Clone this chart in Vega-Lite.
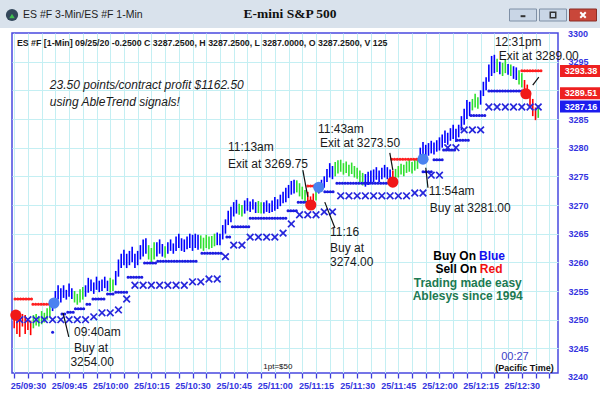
{
  "$schema": "https://vega.github.io/schema/vega-lite/v6.json",
  "padding": 0,
  "spacing": 5,
  "bounds": "flush",
  "background": "#ffffff",
  "config": {"view": {"stroke": null}, "font": "Liberation Sans"},
  "datasets": {
    "bars": [
      {"m":-5,"l":3248.5,"h":3251.5,"c":"r"},{"m":-4,"l":3247.5,"h":3250.5,"c":"r"},{"m":-3,"l":3247.0,"h":3249.8,"c":"r"},{"m":-2,"l":3248.8,"h":3251.0,"c":"r"},{"m":-1,"l":3247.5,"h":3250.8,"c":"r"},{"m":0,"l":3248.2,"h":3250.2,"c":"r"},{"m":1,"l":3247.3,"h":3249.8,"c":"r"},
      {"m":2,"l":3248.5,"h":3250.8,"c":"g"},{"m":3,"l":3249.0,"h":3251.0,"c":"g"},{"m":4,"l":3248.8,"h":3250.5,"c":"g"},{"m":5,"l":3249.2,"h":3251.5,"c":"g"},{"m":6,"l":3249.5,"h":3251.2,"c":"g"},{"m":7,"l":3250.0,"h":3252.0,"c":"g"},{"m":8,"l":3250.5,"h":3252.5,"c":"g"},
      {"m":9,"l":3251.5,"h":3253.5,"c":"b"},{"m":10,"l":3252.5,"h":3255.0,"c":"b"},{"m":11,"l":3253.5,"h":3256.0,"c":"b"},{"m":12,"l":3253.0,"h":3255.5,"c":"b"},{"m":13,"l":3253.8,"h":3256.0,"c":"b"},{"m":14,"l":3253.5,"h":3255.2,"c":"b"},{"m":15,"l":3254.0,"h":3256.3,"c":"b"},{"m":16,"l":3253.6,"h":3255.5,"c":"b"},
      {"m":17,"l":3253.0,"h":3255.0,"c":"g"},{"m":18,"l":3252.6,"h":3254.5,"c":"g"},{"m":19,"l":3253.0,"h":3255.3,"c":"g"},{"m":20,"l":3253.5,"h":3255.7,"c":"g"},
      {"m":21,"l":3254.0,"h":3256.0,"c":"b"},{"m":22,"l":3254.7,"h":3257.3,"c":"b"},{"m":23,"l":3255.0,"h":3257.0,"c":"b"},{"m":24,"l":3254.5,"h":3256.5,"c":"b"},{"m":25,"l":3255.2,"h":3257.5,"c":"b"},{"m":26,"l":3254.8,"h":3256.8,"c":"b"},{"m":27,"l":3255.0,"h":3257.0,"c":"b"},{"m":28,"l":3255.5,"h":3257.5,"c":"b"},{"m":29,"l":3255.0,"h":3256.8,"c":"b"},
      {"m":30,"l":3254.8,"h":3257.3,"c":"g"},{"m":31,"l":3255.0,"h":3257.0,"c":"g"},
      {"m":32,"l":3256.0,"h":3258.5,"c":"b"},{"m":33,"l":3257.5,"h":3260.5,"c":"b"},{"m":34,"l":3259.0,"h":3261.5,"c":"b"},{"m":35,"l":3259.5,"h":3262.2,"c":"b"},{"m":36,"l":3259.0,"h":3261.5,"c":"b"},{"m":37,"l":3259.5,"h":3262.0,"c":"b"},{"m":38,"l":3260.0,"h":3262.7,"c":"b"},{"m":39,"l":3259.0,"h":3261.5,"c":"b"},{"m":40,"l":3259.5,"h":3262.0,"c":"b"},{"m":41,"l":3260.5,"h":3263.0,"c":"b"},{"m":42,"l":3261.0,"h":3264.0,"c":"b"},{"m":43,"l":3261.5,"h":3264.2,"c":"b"},
      {"m":44,"l":3260.5,"h":3263.0,"c":"g"},{"m":45,"l":3260.0,"h":3262.5,"c":"g"},{"m":46,"l":3260.5,"h":3263.5,"c":"g"},
      {"m":47,"l":3261.0,"h":3263.5,"c":"b"},{"m":48,"l":3261.5,"h":3264.0,"c":"b"},{"m":49,"l":3261.0,"h":3263.2,"c":"b"},{"m":50,"l":3260.8,"h":3262.8,"c":"g"},{"m":51,"l":3261.5,"h":3263.5,"c":"b"},{"m":52,"l":3262.0,"h":3264.0,"c":"b"},{"m":53,"l":3261.5,"h":3263.3,"c":"b"},{"m":54,"l":3262.0,"h":3264.5,"c":"b"},{"m":55,"l":3262.5,"h":3265.0,"c":"b"},{"m":56,"l":3262.0,"h":3264.2,"c":"b"},{"m":57,"l":3261.8,"h":3264.0,"c":"b"},{"m":58,"l":3262.3,"h":3264.5,"c":"b"},{"m":59,"l":3262.5,"h":3265.0,"c":"b"},{"m":60,"l":3262.0,"h":3264.8,"c":"b"},{"m":61,"l":3262.5,"h":3265.0,"c":"b"},{"m":62,"l":3262.2,"h":3264.8,"c":"b"},
      {"m":63,"l":3262.4,"h":3264.7,"c":"g"},{"m":64,"l":3262.0,"h":3264.3,"c":"g"},{"m":65,"l":3262.5,"h":3264.8,"c":"g"},{"m":66,"l":3262.3,"h":3264.5,"c":"g"},{"m":67,"l":3262.5,"h":3264.6,"c":"g"},{"m":68,"l":3262.8,"h":3265.0,"c":"g"},
      {"m":69,"l":3263.0,"h":3265.2,"c":"b"},{"m":70,"l":3263.0,"h":3265.0,"c":"b"},{"m":71,"l":3264.0,"h":3266.5,"c":"b"},{"m":72,"l":3265.0,"h":3267.5,"c":"b"},{"m":73,"l":3266.5,"h":3269.0,"c":"b"},{"m":74,"l":3267.0,"h":3269.7,"c":"b"},{"m":75,"l":3268.0,"h":3270.5,"c":"b"},{"m":76,"l":3268.5,"h":3270.9,"c":"b"},
      {"m":77,"l":3268.3,"h":3270.2,"c":"g"},{"m":78,"l":3268.0,"h":3270.0,"c":"g"},
      {"m":79,"l":3268.5,"h":3270.8,"c":"b"},{"m":80,"l":3269.0,"h":3271.2,"c":"b"},{"m":81,"l":3268.8,"h":3270.6,"c":"b"},{"m":82,"l":3269.2,"h":3271.0,"c":"b"},{"m":83,"l":3268.6,"h":3270.5,"c":"b"},
      {"m":84,"l":3268.6,"h":3270.7,"c":"g"},{"m":85,"l":3268.5,"h":3270.5,"c":"g"},
      {"m":86,"l":3268.5,"h":3270.5,"c":"b"},{"m":87,"l":3268.8,"h":3270.8,"c":"b"},{"m":88,"l":3268.6,"h":3270.3,"c":"b"},{"m":89,"l":3268.8,"h":3270.8,"c":"b"},{"m":90,"l":3269.0,"h":3271.4,"c":"b"},{"m":91,"l":3269.3,"h":3271.0,"c":"b"},{"m":92,"l":3269.8,"h":3271.8,"c":"b"},{"m":93,"l":3270.3,"h":3272.3,"c":"b"},{"m":94,"l":3270.5,"h":3273.0,"c":"b"},{"m":95,"l":3271.2,"h":3273.5,"c":"b"},{"m":96,"l":3271.8,"h":3274.2,"c":"b"},{"m":97,"l":3272.0,"h":3274.4,"c":"b"},
      {"m":98,"l":3272.2,"h":3274.3,"c":"g"},{"m":99,"l":3271.5,"h":3273.8,"c":"g"},{"m":100,"l":3271.0,"h":3273.2,"c":"g"},{"m":101,"l":3270.5,"h":3272.6,"c":"g"},
      {"m":102,"l":3270.0,"h":3272.3,"c":"r"},{"m":103,"l":3269.5,"h":3271.5,"c":"r"},{"m":104,"l":3270.0,"h":3272.0,"c":"r"},{"m":105,"l":3270.8,"h":3273.0,"c":"g"},
      {"m":106,"l":3272.0,"h":3274.0,"c":"b"},{"m":107,"l":3272.5,"h":3274.4,"c":"b"},{"m":108,"l":3273.0,"h":3275.0,"c":"b"},{"m":109,"l":3274.0,"h":3276.3,"c":"b"},{"m":110,"l":3274.8,"h":3277.3,"c":"b"},{"m":111,"l":3274.5,"h":3276.8,"c":"b"},
      {"m":112,"l":3275.0,"h":3277.5,"c":"g"},{"m":113,"l":3275.5,"h":3277.8,"c":"g"},{"m":114,"l":3275.8,"h":3277.9,"c":"g"},{"m":115,"l":3275.3,"h":3277.3,"c":"g"},{"m":116,"l":3275.6,"h":3277.6,"c":"g"},{"m":117,"l":3275.0,"h":3277.0,"c":"g"},{"m":118,"l":3275.4,"h":3277.4,"c":"g"},{"m":119,"l":3274.8,"h":3276.8,"c":"g"},{"m":120,"l":3274.6,"h":3276.5,"c":"g"},{"m":121,"l":3274.0,"h":3276.0,"c":"g"},{"m":122,"l":3273.4,"h":3275.6,"c":"g"},
      {"m":123,"l":3273.2,"h":3275.4,"c":"b"},{"m":124,"l":3273.5,"h":3275.8,"c":"b"},{"m":125,"l":3273.8,"h":3276.0,"c":"b"},{"m":126,"l":3274.0,"h":3276.2,"c":"b"},{"m":127,"l":3274.4,"h":3276.6,"c":"b"},{"m":128,"l":3274.0,"h":3276.0,"c":"b"},{"m":129,"l":3274.5,"h":3276.5,"c":"b"},{"m":130,"l":3274.8,"h":3277.0,"c":"b"},{"m":131,"l":3274.5,"h":3276.6,"c":"b"},{"m":132,"l":3274.5,"h":3276.2,"c":"b"},
      {"m":133,"l":3274.0,"h":3276.0,"c":"r"},
      {"m":134,"l":3274.2,"h":3276.3,"c":"g"},{"m":135,"l":3274.8,"h":3276.8,"c":"g"},{"m":136,"l":3275.3,"h":3277.2,"c":"g"},{"m":137,"l":3275.0,"h":3277.0,"c":"g"},{"m":138,"l":3275.6,"h":3277.6,"c":"g"},{"m":139,"l":3275.8,"h":3277.9,"c":"g"},{"m":140,"l":3275.5,"h":3277.5,"c":"g"},{"m":141,"l":3276.0,"h":3277.9,"c":"g"},{"m":142,"l":3276.3,"h":3278.2,"c":"g"},
      {"m":143,"l":3277.5,"h":3280.0,"c":"b"},{"m":144,"l":3278.5,"h":3281.0,"c":"b"},{"m":145,"l":3278.2,"h":3280.5,"c":"b"},{"m":146,"l":3278.6,"h":3280.8,"c":"b"},{"m":147,"l":3279.0,"h":3281.2,"c":"b"},{"m":148,"l":3278.8,"h":3280.9,"c":"b"},{"m":149,"l":3279.3,"h":3281.3,"c":"b"},{"m":150,"l":3279.5,"h":3281.8,"c":"b"},{"m":151,"l":3280.0,"h":3282.3,"c":"b"},{"m":152,"l":3280.8,"h":3283.0,"c":"b"},{"m":153,"l":3280.5,"h":3282.6,"c":"b"},{"m":154,"l":3281.2,"h":3283.4,"c":"b"},{"m":155,"l":3281.5,"h":3284.0,"c":"b"},{"m":156,"l":3281.0,"h":3283.3,"c":"b"},{"m":157,"l":3281.8,"h":3284.0,"c":"b"},{"m":158,"l":3283.0,"h":3285.5,"c":"b"},{"m":159,"l":3284.0,"h":3286.8,"c":"b"},{"m":160,"l":3285.0,"h":3288.3,"c":"b"},{"m":161,"l":3285.5,"h":3288.0,"c":"b"},
      {"m":162,"l":3286.5,"h":3288.5,"c":"g"},{"m":163,"l":3287.0,"h":3289.4,"c":"g"},{"m":164,"l":3286.8,"h":3288.8,"c":"g"},
      {"m":165,"l":3287.5,"h":3290.0,"c":"b"},{"m":166,"l":3289.0,"h":3291.5,"c":"b"},{"m":167,"l":3290.0,"h":3292.3,"c":"b"},{"m":168,"l":3291.5,"h":3294.5,"c":"b"},{"m":169,"l":3292.5,"h":3296.0,"c":"b"},{"m":170,"l":3293.0,"h":3296.2,"c":"b"},
      {"m":171,"l":3293.2,"h":3295.5,"c":"g"},{"m":172,"l":3292.8,"h":3295.0,"c":"b"},{"m":173,"l":3292.5,"h":3294.8,"c":"g"},{"m":174,"l":3293.0,"h":3295.3,"c":"g"},{"m":175,"l":3292.7,"h":3294.6,"c":"b"},{"m":176,"l":3292.5,"h":3294.5,"c":"g"},{"m":177,"l":3292.0,"h":3294.2,"c":"b"},{"m":178,"l":3291.8,"h":3294.0,"c":"b"},{"m":179,"l":3291.0,"h":3293.5,"c":"g"},{"m":180,"l":3290.5,"h":3293.0,"c":"g"},
      {"m":181,"l":3289.5,"h":3291.8,"c":"r"},{"m":182,"l":3288.8,"h":3291.0,"c":"r"},{"m":183,"l":3287.0,"h":3289.8,"c":"r"},{"m":184,"l":3285.5,"h":3288.5,"c":"r"},{"m":185,"l":3284.8,"h":3287.0,"c":"r"},{"m":186,"l":3285.2,"h":3287.4,"c":"g"}
    ],
    "dots": [
      {"a":9,"b":9,"p":3247.8},{"a":12.4,"b":14.2,"p":3251.0},{"a":14.5,"b":17,"p":3251.3},{"a":17.3,"b":20.8,"p":3251.9},{"a":21.5,"b":23.3,"p":3252.7},{"a":23.7,"b":28.5,"p":3253.6},{"a":29,"b":31.5,"p":3254.5},{"a":32,"b":36,"p":3254.8},{"a":36.5,"b":42,"p":3257.4},{"a":42.5,"b":47,"p":3259.9},{"a":47.3,"b":61.6,"p":3260.2},{"a":63.4,"b":71,"p":3261.6},{"a":72.5,"b":74,"p":3264.4},{"a":74.5,"b":80.5,"p":3266.2},{"a":81,"b":94.4,"p":3267.7},{"a":94.8,"b":98,"p":3269.0},{"a":98.5,"b":102,"p":3270.5},{"a":108.2,"b":111.9,"p":3272.3},{"a":112.6,"b":133,"p":3273.8},{"a":144,"b":147.5,"p":3275.8},{"a":148,"b":151,"p":3277.9},{"a":151.5,"b":156,"p":3279.6},{"a":156.5,"b":161,"p":3281.3},{"a":161.5,"b":167,"p":3285.6},{"a":168,"b":180.4,"p":3289.9}
    ],
    "reds": [
      {"a":-4.7,"b":1.5,"p":3253.6},{"a":1.8,"b":8.7,"p":3252.7},{"a":102,"b":105,"p":3273.3},{"a":132.6,"b":143,"p":3278.0},{"a":180,"b":187,"p":3293.4}
    ],
    "xs": [
      {"m":-3,"p":3250.0},{"m":0,"p":3250.0},{"m":3,"p":3250.0},{"m":6,"p":3250.0},{"m":9,"p":3250.0},{"m":12,"p":3250.0},{"m":15,"p":3250.0},{"m":18,"p":3250.0},{"m":21,"p":3250.0},
      {"m":24,"p":3250.5},{"m":27,"p":3251.2},{"m":30,"p":3251.2},{"m":33,"p":3251.7},{"m":36,"p":3253.6},
      {"m":39,"p":3256.0},{"m":42,"p":3256.0},{"m":45,"p":3256.0},{"m":48,"p":3256.0},{"m":51,"p":3256.0},{"m":54,"p":3256.0},{"m":57,"p":3256.0},
      {"m":60,"p":3256.6},{"m":63,"p":3256.6},{"m":66,"p":3257.1},{"m":69,"p":3257.1},{"m":72,"p":3261.0},{"m":75,"p":3263.0},{"m":78,"p":3263.0},
      {"m":81,"p":3264.4},{"m":84,"p":3264.4},{"m":87,"p":3264.4},{"m":90,"p":3264.4},{"m":93,"p":3265.1},{"m":96,"p":3266.7},
      {"m":99,"p":3268.3},{"m":102,"p":3268.3},{"m":105,"p":3268.3},{"m":108,"p":3268.8},{"m":111,"p":3268.8},
      {"m":114,"p":3271.6},{"m":117,"p":3271.6},{"m":120,"p":3271.6},{"m":123,"p":3271.6},{"m":126,"p":3271.6},{"m":129,"p":3271.6},{"m":132,"p":3271.6},{"m":135,"p":3271.6},{"m":138,"p":3271.6},
      {"m":141,"p":3272.1},{"m":144,"p":3272.1},{"m":147,"p":3275.2},{"m":150,"p":3275.2},{"m":153,"p":3280.0},{"m":156,"p":3280.0},
      {"m":159,"p":3283.1},{"m":162,"p":3283.1},{"m":165,"p":3283.1},
      {"m":168,"p":3287.1},{"m":171,"p":3287.1},{"m":174,"p":3287.1},{"m":177,"p":3287.1},{"m":180,"p":3287.1},{"m":183,"p":3287.1},{"m":186,"p":3287.1}
    ],
    "sig": [
      {"m":-4.4,"p":3250.8,"k":"sell"},{"m":9.5,"p":3252.9,"k":"buy"},{"m":103.1,"p":3270.0,"k":"sell"},{"m":106,"p":3273.1,"k":"buy"},{"m":133,"p":3274.0,"k":"sell"},{"m":144,"p":3278.0,"k":"buy"},{"m":181.5,"p":3289.4,"k":"sell"}
    ],
    "arrows": [
      {"m1":14.9,"p1":3247.0,"m2":12.8,"p2":3251.2},{"m1":100.2,"p1":3276.1,"m2":102.0,"p2":3271.4},{"m1":111.9,"p1":3266.0,"m2":108.2,"p2":3270.5},{"m1":131.9,"p1":3279.1,"m2":133.0,"p2":3276.1},{"m1":145.8,"p1":3273.0,"m2":145.0,"p2":3276.5},{"m1":186.2,"p1":3292.3,"m2":184.0,"p2":3290.9}
    ],
    "notes": [
      {"m":16.8,"p":3247.8,"t":"09:40am","g":"a"},{"m":16.8,"p":3245.1,"t":"Buy at","g":"a"},{"m":15.5,"p":3242.6,"t":"3254.00","g":"a"},
      {"m":72.9,"p":3280.1,"t":"11:13am","g":"a"},{"m":72.9,"p":3277.2,"t":"Exit at 3269.75","g":"a"},
      {"m":105.7,"p":3283.3,"t":"11:43am","g":"a"},{"m":106.5,"p":3280.8,"t":"Exit at 3273.50","g":"a"},
      {"m":110.1,"p":3265.3,"t":"11:16","g":"a"},{"m":110.1,"p":3262.5,"t":"Buy at","g":"a"},{"m":110.1,"p":3260.1,"t":"3274.00","g":"a"},
      {"m":146.1,"p":3272.4,"t":"11:54am","g":"a"},{"m":146.5,"p":3269.5,"t":"Buy at 3281.00","g":"a"},
      {"m":170.2,"p":3298.4,"t":"12:31pm","g":"a"},{"m":171.6,"p":3296.0,"t":"Exit at 3289.00","g":"a"},
      {"m":8.0,"p":3290.9,"t":"23.50 points/contract profit $1162.50","g":"i"},{"m":8.0,"p":3288.0,"t":"using AbleTrend signals!","g":"i"},
      {"m":163.3,"p":3261.1,"t":"Buy On","g":"k"},{"m":163.6,"p":3258.8,"t":"Sell On","g":"k"},
      {"m":164.4,"p":3261.1,"t":"Blue","g":"bl"},{"m":164.7,"p":3258.8,"t":"Red","g":"rd"},
      {"m":160.3,"p":3256.4,"t":"Trading made easy","g":"gr"},{"m":160.3,"p":3254.1,"t":"Ablesys since 1994","g":"gr"},
      {"m":91.1,"p":3241.7,"t":"1pt=$50","g":"s"},
      {"m":177.5,"p":3243.5,"t":"00:27","g":"clk"},
      {"m":181.0,"p":3241.6,"t":"(Pacific Time)","g":"pt"},
      {"m":-4.0,"p":3298.3,"t":"ES #F [1-Min] 09/25/20  -0.2500 C 3287.2500, H 3287.2500, L 3287.0000, O 3287.2500, V 125","g":"info"}
    ],
    "tags": [
      {"p":3293.38,"t":"3293.38","k":"r"},{"p":3289.51,"t":"3289.51","k":"r"},{"p":3287.16,"t":"3287.16","k":"b"}
    ],
    "edgelabels": [
      {"p":3240,"t":"3240"},{"p":3299.9,"t":"3300"}
    ]
  },
  "vconcat": [
    {
      "width": 600,
      "height": 28,
      "view": {"fill": "#d9e2ec", "stroke": null},
      "layer": [
        {"data": {"values": [{"s": "o"}]}, "mark": {"type": "point", "shape": "circle", "filled": true, "color": "#33475b", "size": 150, "opacity": 1}, "encoding": {"x": {"value": 12}, "y": {"value": 15}}},
        {"data": {"values": [{"s": "o"}]}, "mark": {"type": "point", "shape": "triangle-up", "filled": true, "color": "#3fbf4f", "size": 30, "opacity": 1}, "encoding": {"x": {"value": 12}, "y": {"value": 16}}},
        {"data": {"values": [{"s": "ES #F 3-Min/ES #F 1-Min"}]}, "mark": {"type": "text", "align": "left", "baseline": "middle", "font": "Liberation Sans", "fontSize": 10.5, "color": "#1e1e1e"}, "encoding": {"text": {"field": "s"}, "x": {"value": 23}, "y": {"value": 15}}},
        {"data": {"values": [{"s": "E-mini S&P 500"}]}, "mark": {"type": "text", "align": "center", "baseline": "middle", "font": "Liberation Serif", "fontWeight": "bold", "fontSize": 13.5, "color": "#111111"}, "encoding": {"text": {"field": "s"}, "x": {"value": 290}, "y": {"value": 14}}},
        {"data": {"values": [{"b": "min"}]}, "mark": {"type": "point", "shape": "M-2.25,-1H2.25V1H-2.25Z", "filled": true, "fill": "#c9d6e6", "stroke": "#7f90a6", "strokeWidth": 1, "size": 144, "opacity": 1}, "encoding": {"x": {"value": 523}, "y": {"value": 15}}},
        {"data": {"values": [{"b": "max"}]}, "mark": {"type": "point", "shape": "M-2.25,-1H2.25V1H-2.25Z", "filled": true, "fill": "#c9d6e6", "stroke": "#7f90a6", "strokeWidth": 1, "size": 144, "opacity": 1}, "encoding": {"x": {"value": 553}, "y": {"value": 15}}},
        {"data": {"values": [{"b": "min"}]}, "mark": {"type": "point", "shape": "M-0.8,0.4H0.8", "filled": false, "stroke": "#333333", "strokeWidth": 2, "size": 36, "opacity": 1}, "encoding": {"x": {"value": 523}, "y": {"value": 15}}},
        {"data": {"values": [{"b": "max"}]}, "mark": {"type": "point", "shape": "square", "filled": false, "stroke": "#333333", "strokeWidth": 1.5, "size": 30, "opacity": 1}, "encoding": {"x": {"value": 553}, "y": {"value": 15}}},
        {"data": {"values": [{"b": "close"}]}, "mark": {"type": "point", "shape": "M-2.25,-1H2.25V1H-2.25Z", "filled": true, "fill": "#c9473a", "stroke": "#8a2d25", "strokeWidth": 1, "size": 144, "opacity": 1}, "encoding": {"x": {"value": 583}, "y": {"value": 15}}},
        {"data": {"values": [{"b": "close"}]}, "mark": {"type": "point", "shape": "M-1,-1L1,1M-1,1L1,-1", "filled": false, "stroke": "#ffffff", "strokeWidth": 2, "size": 30, "opacity": 1}, "encoding": {"x": {"value": 583}, "y": {"value": 15}}}
      ]
    },
    {
      "hconcat": [
        {"width": 12, "height": 340, "data": {"values": [{"s": ""}]}, "mark": {"type": "text"}, "encoding": {"text": {"field": "s"}}},
        {
          "width": 546,
          "height": 340,
          "view": {"fill": "#ffffff", "stroke": "#4848e0", "strokeWidth": 1.5},
          "resolve": {"scale": {"fill": "independent", "color": "independent"}},
          "layer": [
            {
              "data": {"name": "bars"},
              "mark": {"type": "rule", "strokeWidth": 1.6},
              "encoding": {
                "x": {"field": "m", "type": "quantitative", "title": null,
                  "scale": {"domain": [-5.8, 193.2], "nice": false, "zero": false},
                  "axis": {"values": [-5,0,5,10,15,20,25,30,35,40,45,50,55,60,65,70,75,80,85,90,95,100,105,110,115,120,125,130,135,140,145,150,155,160,165,170,175,180,185,190],
                    "tickCount": 200,
                    "grid": true, "gridColor": "#c4eff3", "gridWidth": 1, "domain": false,
                    "tickColor": "#3c3cdc", "tickSize": 5, "tickWidth": 1.3,
                    "labelColor": "#3434e0", "labelFont": "Liberation Sans", "labelFontWeight": "bold", "labelFontSize": 9, "labelPadding": 3,
                    "labelOverlap": false, "labelFlush": false, "labelBound": false,
                    "labelExpr": "datum.value % 15 == 0 ? '25/' + timeFormat(datetime(2020, 8, 25, 9, 30 + datum.value), '%H:%M') : ''"}},
                "y": {"field": "l", "type": "quantitative", "title": null,
                  "scale": {"domain": [3240.7, 3300], "nice": false, "zero": false},
                  "axis": {"orient": "right", "values": [3245,3250,3255,3260,3265,3270,3275,3280,3285,3290,3295],
                    "tickCount": 200, "format": "d",
                    "grid": true, "gridColor": "#c4eff3", "gridWidth": 1, "domain": false, "ticks": false,
                    "labelPadding": 10, "labelColor": "#3434e0", "labelFont": "Liberation Sans", "labelFontWeight": "bold", "labelFontSize": 9, "labelBound": false, "labelOverlap": false}},
                "y2": {"field": "h"},
                "color": {"field": "c", "type": "nominal", "scale": {"domain": ["r", "g", "b"], "range": ["#ff0000", "#2fe02f", "#0000ff"]}, "legend": null}
              }
            },
            {
              "data": {"name": "dots"},
              "mark": {"type": "rule", "color": "#1c1ce0", "strokeWidth": 3, "strokeCap": "round", "strokeDash": [0.1, 2.64]},
              "encoding": {
                "x": {"field": "a", "type": "quantitative", "title": null},
                "x2": {"field": "b"},
                "y": {"field": "p", "type": "quantitative", "title": null}
              }
            },
            {
              "data": {"name": "reds"},
              "mark": {"type": "rule", "color": "#ff2020", "strokeWidth": 3, "strokeCap": "round", "strokeDash": [0.1, 2.64]},
              "encoding": {
                "x": {"field": "a", "type": "quantitative", "title": null},
                "x2": {"field": "b"},
                "y": {"field": "p", "type": "quantitative", "title": null}
              }
            },
            {
              "data": {"name": "xs"},
              "mark": {"type": "point", "shape": "M-1,-1L1,1M-1,1L1,-1", "filled": false, "stroke": "#2626dc", "strokeWidth": 1.7, "size": 44, "opacity": 1},
              "encoding": {
                "x": {"field": "m", "type": "quantitative", "title": null},
                "y": {"field": "p", "type": "quantitative", "title": null}
              }
            },
            {
              "data": {"name": "sig"},
              "mark": {"type": "point", "shape": "circle", "filled": true, "size": 125, "opacity": 1},
              "encoding": {
                "x": {"field": "m", "type": "quantitative", "title": null},
                "y": {"field": "p", "type": "quantitative", "title": null},
                "fill": {"field": "k", "type": "nominal", "scale": {"domain": ["buy", "sell"], "range": ["#4a82f0", "#f01818"]}, "legend": null}
              }
            },
            {
              "data": {"name": "arrows"},
              "mark": {"type": "rule", "color": "#111111", "strokeWidth": 1.2},
              "encoding": {
                "x": {"field": "m1", "type": "quantitative", "title": null},
                "x2": {"field": "m2"},
                "y": {"field": "p1", "type": "quantitative", "title": null},
                "y2": {"field": "p2"}
              }
            },
            {
              "data": {"name": "notes"},
              "transform": [{"filter": "datum.g == 'a'"}],
              "mark": {"type": "text", "align": "left", "baseline": "middle", "font": "Liberation Sans", "fontSize": 12, "color": "#1a1a1a"},
              "encoding": {"x": {"field": "m", "type": "quantitative", "title": null}, "y": {"field": "p", "type": "quantitative", "title": null}, "text": {"field": "t"}}
            },
            {
              "data": {"name": "notes"},
              "transform": [{"filter": "datum.g == 'i'"}],
              "mark": {"type": "text", "align": "left", "baseline": "middle", "font": "Liberation Sans", "fontStyle": "italic", "fontSize": 12, "color": "#1a1a1a"},
              "encoding": {"x": {"field": "m", "type": "quantitative", "title": null}, "y": {"field": "p", "type": "quantitative", "title": null}, "text": {"field": "t"}}
            },
            {
              "data": {"name": "notes"},
              "transform": [{"filter": "datum.g == 'k'"}],
              "mark": {"type": "text", "align": "right", "baseline": "middle", "font": "Liberation Sans", "fontWeight": "bold", "fontSize": 12, "color": "#000000"},
              "encoding": {"x": {"field": "m", "type": "quantitative", "title": null}, "y": {"field": "p", "type": "quantitative", "title": null}, "text": {"field": "t"}}
            },
            {
              "data": {"name": "notes"},
              "transform": [{"filter": "datum.g == 'bl'"}],
              "mark": {"type": "text", "align": "left", "baseline": "middle", "font": "Liberation Sans", "fontWeight": "bold", "fontSize": 12, "color": "#1010f0"},
              "encoding": {"x": {"field": "m", "type": "quantitative", "title": null}, "y": {"field": "p", "type": "quantitative", "title": null}, "text": {"field": "t"}}
            },
            {
              "data": {"name": "notes"},
              "transform": [{"filter": "datum.g == 'rd'"}],
              "mark": {"type": "text", "align": "left", "baseline": "middle", "font": "Liberation Sans", "fontWeight": "bold", "fontSize": 12, "color": "#f01010"},
              "encoding": {"x": {"field": "m", "type": "quantitative", "title": null}, "y": {"field": "p", "type": "quantitative", "title": null}, "text": {"field": "t"}}
            },
            {
              "data": {"name": "notes"},
              "transform": [{"filter": "datum.g == 'gr'"}],
              "mark": {"type": "text", "align": "center", "baseline": "middle", "font": "Liberation Sans", "fontWeight": "bold", "fontSize": 12, "color": "#1c7a52"},
              "encoding": {"x": {"field": "m", "type": "quantitative", "title": null}, "y": {"field": "p", "type": "quantitative", "title": null}, "text": {"field": "t"}}
            },
            {
              "data": {"name": "notes"},
              "transform": [{"filter": "datum.g == 's'"}],
              "mark": {"type": "text", "align": "center", "baseline": "middle", "font": "Liberation Sans", "fontSize": 8, "color": "#111111"},
              "encoding": {"x": {"field": "m", "type": "quantitative", "title": null}, "y": {"field": "p", "type": "quantitative", "title": null}, "text": {"field": "t"}}
            },
            {
              "data": {"name": "notes"},
              "transform": [{"filter": "datum.g == 'clk'"}],
              "mark": {"type": "text", "align": "center", "baseline": "middle", "font": "Liberation Sans", "fontSize": 11, "color": "#4040c8"},
              "encoding": {"x": {"field": "m", "type": "quantitative", "title": null}, "y": {"field": "p", "type": "quantitative", "title": null}, "text": {"field": "t"}}
            },
            {
              "data": {"name": "notes"},
              "transform": [{"filter": "datum.g == 'pt'"}],
              "mark": {"type": "text", "align": "center", "baseline": "middle", "font": "Liberation Sans", "fontWeight": "bold", "fontSize": 9, "color": "#111111"},
              "encoding": {"x": {"field": "m", "type": "quantitative", "title": null}, "y": {"field": "p", "type": "quantitative", "title": null}, "text": {"field": "t"}}
            },
            {
              "data": {"name": "notes"},
              "transform": [{"filter": "datum.g == 'info'"}],
              "mark": {"type": "text", "align": "left", "baseline": "middle", "font": "Liberation Sans", "fontWeight": "bold", "fontSize": 8.8, "color": "#1a1a1a"},
              "encoding": {"x": {"field": "m", "type": "quantitative", "title": null}, "y": {"field": "p", "type": "quantitative", "title": null}, "text": {"field": "t"}}
            },
            {
              "data": {"name": "edgelabels"},
              "mark": {"type": "text", "align": "left", "baseline": "middle", "font": "Liberation Sans", "fontWeight": "bold", "fontSize": 9, "color": "#3434e0", "dx": 10},
              "encoding": {"x": {"value": "width"}, "y": {"field": "p", "type": "quantitative", "title": null}, "text": {"field": "t"}}
            },
            {
              "data": {"name": "tags"},
              "mark": {"type": "point", "shape": "M0.333,-1H7V1H0.333Z", "filled": true, "size": 144, "opacity": 1},
              "encoding": {
                "x": {"value": "width"},
                "y": {"field": "p", "type": "quantitative", "title": null},
                "fill": {"field": "k", "type": "nominal", "scale": {"domain": ["r", "b"], "range": ["#ee2020", "#1c1cee"]}, "legend": null}
              }
            },
            {
              "data": {"name": "tags"},
              "mark": {"type": "text", "align": "center", "baseline": "middle", "font": "Liberation Sans", "fontWeight": "bold", "fontSize": 9, "color": "#ffffff", "dx": 23},
              "encoding": {
                "x": {"value": "width"},
                "y": {"field": "p", "type": "quantitative", "title": null},
                "text": {"field": "t"}
              }
            }
          ]
        }
      ],
      "spacing": 0,
      "bounds": "flush"
    }
  ]
}
